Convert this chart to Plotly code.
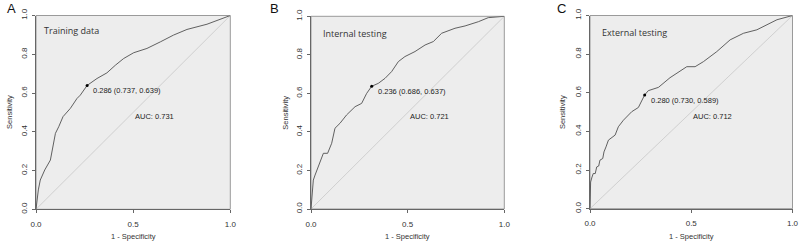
import plotly.graph_objects as go

# ---- data ----
panel_labels = ["A", "B", "C"]
titles = ["Training data", "Internal testing", "External testing"]
thresholds = ["0.286 (0.737, 0.639)", "0.236 (0.686, 0.637)", "0.280 (0.730, 0.589)"]
auc_labels = ["AUC: 0.731", "AUC: 0.721", "AUC: 0.712"]
best_fpr = [0.263, 0.314, 0.270]
best_tpr = [0.639, 0.637, 0.589]

fpr_a = [0, 0.005, 0.012, 0.022, 0.045, 0.074, 0.091, 0.100, 0.117, 0.139, 0.177, 0.211, 0.228, 0.263,
         0.314, 0.365, 0.408, 0.451, 0.503, 0.571, 0.640, 0.708, 0.777, 0.880, 1.0]
tpr_a = [0, 0.048, 0.100, 0.151, 0.203, 0.254, 0.357, 0.392, 0.426, 0.478, 0.521, 0.572, 0.589, 0.639,
         0.675, 0.704, 0.743, 0.778, 0.808, 0.830, 0.864, 0.899, 0.928, 0.955, 1.0]

fpr_b = [0, 0.003, 0.008, 0.012, 0.021, 0.038, 0.047, 0.064, 0.086, 0.107, 0.124, 0.150, 0.184, 0.228,
         0.262, 0.288, 0.314, 0.348, 0.383, 0.417, 0.452, 0.486, 0.538, 0.590, 0.633, 0.676, 0.745,
         0.797, 0.866, 0.917, 1.0]
tpr_b = [0, 0.047, 0.110, 0.150, 0.176, 0.220, 0.237, 0.289, 0.289, 0.341, 0.419, 0.445, 0.488, 0.531,
         0.548, 0.600, 0.637, 0.652, 0.678, 0.713, 0.765, 0.791, 0.817, 0.851, 0.869, 0.912, 0.938,
         0.950, 0.972, 0.993, 1.0]

fpr_c = [0, 0.002, 0.003, 0.010, 0.016, 0.026, 0.033, 0.043, 0.049, 0.063, 0.069, 0.079, 0.091, 0.124,
         0.140, 0.165, 0.206, 0.239, 0.255, 0.270, 0.288, 0.338, 0.395, 0.461, 0.478, 0.519, 0.560,
         0.626, 0.692, 0.758, 0.824, 0.923, 1.0]
tpr_c = [0, 0.087, 0.138, 0.164, 0.182, 0.182, 0.216, 0.221, 0.251, 0.260, 0.294, 0.320, 0.355, 0.381,
         0.424, 0.458, 0.502, 0.524, 0.562, 0.589, 0.611, 0.628, 0.678, 0.727, 0.735, 0.735, 0.761,
         0.813, 0.874, 0.908, 0.926, 0.978, 1.0]

fprs = [fpr_a, fpr_b, fpr_c]
tprs = [tpr_a, tpr_b, tpr_c]

x_ticks = [0.0, 0.5, 1.0]
y_ticks = [0.0, 0.2, 0.4, 0.6, 0.8, 1.0]
x_title = "1 - Specificity"
y_title = "Sensitivity"

# ---- layout geometry (pixel-derived) ----
W, H = 800, 242
xdom = [(36 / W, 230.3 / W), (311 / W, 504.3 / W), (590 / W, 792.5 / W)]
ydom = [(1 - 209.3 / H, 1 - 15.5 / H), (1 - 209 / H, 1 - 16.3 / H), (1 - 208.7 / H, 1 - 15.5 / H)]
label_x = [5 / W, 268 / W, 555 / W]
ytitle_px = [9.5, 286, 562]
xtitle_py = 236.5

fig = go.Figure()
tick_font = dict(family="Liberation Sans, Arial", size=8, color="#333333")
text_font = dict(family="Liberation Sans, Arial", size=7.5, color="#222222")
title_font = dict(family="Open Sans, Noto Sans", size=9, color="#333333")
axis_title_font = dict(family="Liberation Sans, Arial", size=7.5, color="#333333")

annotations = []
shapes = []
for i in range(3):
    sfx = "" if i == 0 else str(i + 1)
    xa, ya = "x" + sfx, "y" + sfx
    fig.add_trace(go.Scatter(x=[0, 1], y=[0, 1], mode="lines", line=dict(color="#c8c8c8", width=0.8),
                             xaxis=xa, yaxis=ya, showlegend=False, hoverinfo="skip"))
    fig.add_trace(go.Scatter(x=fprs[i], y=tprs[i], mode="lines", line=dict(color="#505050", width=0.9),
                             xaxis=xa, yaxis=ya, showlegend=False))
    fig.add_trace(go.Scatter(x=[best_fpr[i]], y=[best_tpr[i]], mode="markers",
                             marker=dict(color="black", size=3), xaxis=xa, yaxis=ya, showlegend=False))
    axis_common = dict(range=[0, 1], showgrid=False, zeroline=False, showline=True, linecolor="#666666",
                       linewidth=1, ticks="outside", ticklen=3, tickcolor="#666666", tickwidth=1,
                       tickfont=tick_font, tickformat=".1f", mirror=False, fixedrange=True,
                       automargin=False)
    fig.update_layout(**{
        ("xaxis" + sfx): dict(axis_common, domain=list(xdom[i]), anchor=ya, tickvals=x_ticks,
                              ticklabelstandoff=4),
        ("yaxis" + sfx): dict(axis_common, domain=list(ydom[i]), anchor=xa, tickvals=y_ticks, tickangle=-90,
                              ticklabelstandoff=2),
    })
    shapes.append(dict(type="rect", xref=xa + " domain", yref=ya + " domain", x0=0, x1=1, y0=0, y1=1,
                       fillcolor="#ededed", line=dict(color="#9a9a9a", width=1), layer="below"))
    annotations.append(dict(text=titles[i], x=0.03 if i == 0 else 0.05, y=0.925 if i == 0 else 0.91,
                            xref=xa, yref=ya, xanchor="left", yanchor="middle", showarrow=False, font=title_font))
    annotations.append(dict(text=thresholds[i], x=best_fpr[i] + 0.02, y=best_tpr[i] - 0.027,
                            xref=xa, yref=ya, xanchor="left", yanchor="middle", showarrow=False, font=text_font))
    annotations.append(dict(text=auc_labels[i], x=0.5, y=0.478,
                            xref=xa, yref=ya, xanchor="left", yanchor="middle", showarrow=False, font=text_font))
    annotations.append(dict(text=panel_labels[i], x=label_x[i], y=1 - 8 / H, xref="paper", yref="paper",
                            xanchor="left", yanchor="middle", showarrow=False,
                            font=dict(family="Liberation Sans, Arial", size=13, color="#111")))
    annotations.append(dict(text=y_title, x=ytitle_px[i] / W, y=sum(ydom[i]) / 2, xref="paper", yref="paper",
                            xanchor="center", yanchor="middle", textangle=-90, showarrow=False,
                            font=axis_title_font))
    annotations.append(dict(text=x_title, x=sum(xdom[i]) / 2, y=1 - xtitle_py / H, xref="paper", yref="paper",
                            xanchor="center", yanchor="middle", showarrow=False, font=axis_title_font))

fig.update_layout(width=W, height=H, margin=dict(l=0, r=0, t=0, b=0), paper_bgcolor="white",
                  plot_bgcolor="rgba(0,0,0,0)", shapes=shapes, annotations=annotations, showlegend=False)
fig.write_html("out.html")
